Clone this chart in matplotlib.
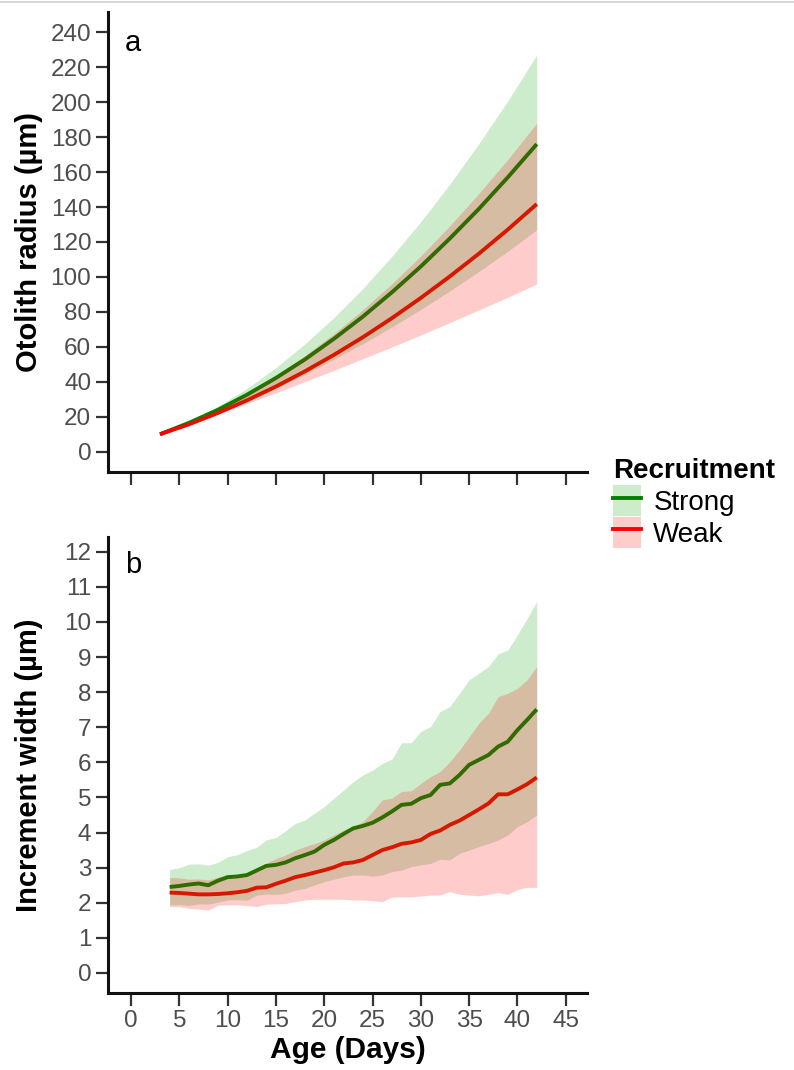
import matplotlib
matplotlib.use("Agg")
import matplotlib.pyplot as plt
from matplotlib.lines import Line2D
from matplotlib.patches import Patch

plt.rcParams["font.family"] = ["Liberation Sans", "DejaVu Sans"]

# panel a: otolith radius (um), every 3 days
age_a = [3, 6, 9, 12, 15, 18, 21, 24, 27, 30, 33, 36, 39, 42]
strong_radius = [10, 16.5, 24.0, 32.6, 42.2, 52.8, 64.6, 77.3, 91.2, 106, 122, 138.9, 157, 176]
strong_radius_lo = [10, 15.8, 22.2, 29.0, 36.4, 44.3, 52.9, 61.8, 71.4, 81.4, 92.0, 103.1, 114.7, 127]
strong_radius_hi = [10, 17.2, 25.9, 36.2, 48.1, 61.7, 76.8, 93.4, 111.8, 131.6, 153.1, 176.2, 200.7, 227]
weak_radius = [10, 15.7, 22.2, 29.4, 37.3, 46.0, 55.4, 65.5, 76.4, 88.0, 100.3, 113.3, 127.1, 141.7]
weak_radius_lo = [10, 15.7, 21.6, 27.6, 33.7, 40.1, 46.5, 53.2, 59.9, 66.8, 73.9, 81.1, 88.4, 96]
weak_radius_hi = [10, 16.7, 24.5, 33.5, 43.6, 55.0, 67.5, 81.2, 96.1, 112, 129.3, 147.7, 167.2, 188]

# panel b: increment width (um), one value per day
age_b = list(range(4, 43))
strong_inc = [2.45, 2.48, 2.52, 2.55, 2.50, 2.63, 2.73, 2.75, 2.79, 2.92,
              3.05, 3.08, 3.15, 3.27, 3.36, 3.46, 3.65, 3.79, 3.96, 4.12,
              4.19, 4.28, 4.43, 4.60, 4.79, 4.82, 4.98, 5.07, 5.36, 5.40,
              5.64, 5.93, 6.07, 6.21, 6.45, 6.59, 6.92, 7.21, 7.51]
strong_inc_lo = [1.94, 1.95, 1.92, 1.97, 1.96, 2.02, 2.08, 2.09, 2.07, 2.22,
                 2.25, 2.24, 2.27, 2.36, 2.41, 2.51, 2.60, 2.67, 2.74, 2.79,
                 2.79, 2.76, 2.79, 2.89, 2.93, 3.03, 3.08, 3.12, 3.24, 3.22,
                 3.41, 3.50, 3.60, 3.69, 3.79, 3.93, 4.17, 4.31, 4.50]
strong_inc_hi = [2.95, 3.00, 3.10, 3.11, 3.07, 3.15, 3.31, 3.37, 3.49, 3.58,
                 3.79, 3.86, 4.05, 4.26, 4.36, 4.55, 4.74, 4.98, 5.21, 5.45,
                 5.64, 5.78, 5.97, 6.09, 6.56, 6.56, 6.88, 7.02, 7.45, 7.59,
                 7.97, 8.35, 8.54, 8.73, 9.09, 9.20, 9.63, 10.10, 10.58]
weak_inc = [2.29, 2.28, 2.26, 2.24, 2.24, 2.25, 2.27, 2.30, 2.34, 2.43,
            2.44, 2.54, 2.63, 2.73, 2.79, 2.86, 2.93, 3.01, 3.12, 3.15,
            3.22, 3.36, 3.50, 3.58, 3.68, 3.72, 3.79, 3.96, 4.06, 4.22,
            4.34, 4.50, 4.66, 4.83, 5.09, 5.09, 5.23, 5.38, 5.57]
weak_inc_lo = [1.89, 1.89, 1.84, 1.82, 1.79, 1.93, 1.94, 1.94, 1.92, 1.89,
               1.96, 1.97, 1.98, 2.03, 2.08, 2.10, 2.10, 2.10, 2.10, 2.08,
               2.08, 2.06, 2.03, 2.16, 2.17, 2.17, 2.19, 2.22, 2.22, 2.32,
               2.24, 2.22, 2.20, 2.24, 2.29, 2.24, 2.38, 2.44, 2.44]
weak_inc_hi = [2.72, 2.71, 2.67, 2.68, 2.65, 2.73, 2.78, 2.81, 2.84, 2.98,
               3.13, 3.26, 3.36, 3.50, 3.60, 3.69, 3.79, 3.93, 4.07, 4.17,
               4.31, 4.60, 4.93, 4.98, 5.17, 5.19, 5.40, 5.59, 5.74, 6.02,
               6.35, 6.73, 7.11, 7.40, 7.87, 7.97, 8.11, 8.35, 8.73]

groups = ["Strong", "Weak"]
line_colors = {"Strong": "#008000", "Weak": "#ff0000"}
fill_colors = {"Strong": "#00a000", "Weak": "#ff0000"}
tick_gray = "#4d4d4d"
tick_size = 17.5
title_size = 21


def style_axis(ax):
    ax.spines["top"].set_visible(False)
    ax.spines["right"].set_visible(False)
    for side in ["left", "bottom"]:
        ax.spines[side].set_linewidth(2.2)
        ax.spines[side].set_color("#111111")
    ax.tick_params(length=9, width=1.6, color="#333333", labelcolor=tick_gray,
                   labelsize=tick_size, pad=3)
    ax.set_xlim(-2.38, 47.2)
    ax.set_xticks(range(0, 50, 5))


def draw_panel(ax, x, series):
    # lines first, ribbons on top (that's why the lines look darker)
    for name in groups:
        mid, lo, hi = series[name]
        ax.plot(x, mid, color=line_colors[name], lw=2.8, zorder=1,
                solid_capstyle="butt")
    for name in groups:
        mid, lo, hi = series[name]
        ax.fill_between(x, lo, hi, color=fill_colors[name], alpha=0.2,
                        lw=0, zorder=2)


fig = plt.figure(figsize=(7.94, 10.70), dpi=100)

# top line of the screenshot
fig.add_artist(Line2D([0, 1], [1 - 2 / 1070, 1 - 2 / 1070], color="#cfcfcf",
                      lw=1.2, transform=fig.transFigure))

ax1 = fig.add_axes([108 / 794, 1 - 472 / 1070, 479 / 794, 460 / 1070])
ax2 = fig.add_axes([108 / 794, 1 - 993 / 1070, 479 / 794, 456 / 1070])

draw_panel(ax1, age_a, {
    "Strong": (strong_radius, strong_radius_lo, strong_radius_hi),
    "Weak": (weak_radius, weak_radius_lo, weak_radius_hi),
})
draw_panel(ax2, age_b, {
    "Strong": (strong_inc, strong_inc_lo, strong_inc_hi),
    "Weak": (weak_inc, weak_inc_lo, weak_inc_hi),
})

style_axis(ax1)
ax1.set_ylim(-11.6, 251.6)
ax1.set_yticks(range(0, 241, 20))
ax1.tick_params(axis="x", labelbottom=False)
ax1.set_ylabel("Otolith radius (µm)", fontsize=title_size, fontweight="bold")
ax1.yaxis.set_label_coords(-0.136, 0.5)
ax1.text(0.035, 0.933, "a", transform=ax1.transAxes, fontsize=21, va="center")

style_axis(ax2)
ax2.set_ylim(-0.57, 12.42)
ax2.set_yticks(range(0, 13))
ax2.set_ylabel("Increment width (µm)", fontsize=title_size, fontweight="bold")
ax2.yaxis.set_label_coords(-0.136, 0.5)
ax2.set_xlabel("Age (Days)", fontsize=21.5, fontweight="bold", labelpad=3)
ax2.text(0.035, 0.939, "b", transform=ax2.transAxes, fontsize=21, va="center")

# legend
handles = []
for name in groups:
    patch = Patch(facecolor=fill_colors[name], alpha=0.2, edgecolor="none")
    line = Line2D([], [], color=line_colors[name], lw=2.8)
    handles.append((patch, line))
leg = fig.legend(handles, groups, loc="upper left",
                 bbox_to_anchor=(613 / 794, 1 - 458 / 1070),
                 frameon=False, borderpad=0, borderaxespad=0,
                 fontsize=20, title="Recruitment",
                 title_fontproperties={"weight": "bold", "size": 20},
                 alignment="left", handlelength=1.0, handleheight=1.3,
                 handletextpad=0.45, labelspacing=0.05)

fig.savefig("out.png", dpi=100)
